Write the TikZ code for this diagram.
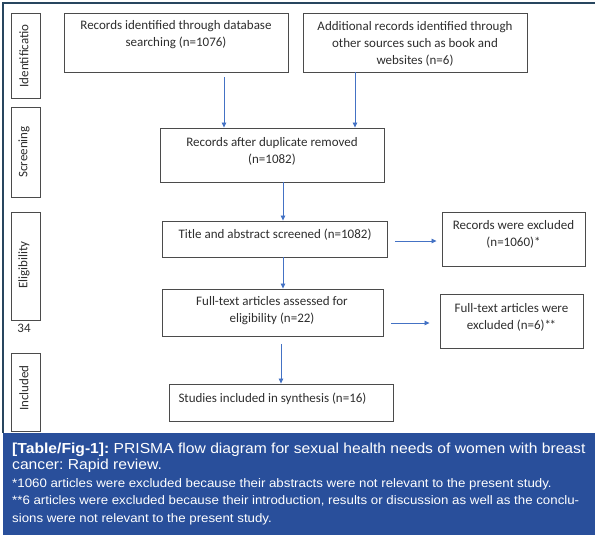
\documentclass[tikz,border=0pt]{standalone}
\usepackage{fontspec}
\setmainfont{Carlito}
\newfontfamily\capfont[FakeStretch=1.08]{Liberation Sans}
\usetikzlibrary{arrows.meta,calc}
\definecolor{bandblue}{RGB}{41,79,155}
\definecolor{arrblue}{RGB}{68,114,196}
\definecolor{framec}{RGB}{40,70,95}
\definecolor{boxc}{RGB}{75,75,75}
\definecolor{txtc}{RGB}{45,45,45}
\frenchspacing
\tikzset{
  box/.style={draw=boxc, line width=0.9pt, inner sep=0pt},
  txt/.style={font=\fontsize{13}{17}\selectfont, text=txtc, align=center, inner sep=0pt},
  sidetxt/.style={font=\fontsize{13}{15}\selectfont, text=txtc, inner sep=0pt, rotate=90},
  arr/.style={draw=arrblue, line width=0.8pt, -{Triangle[length=5pt,width=4.5pt]}},
  frameline/.style={draw=framec, line width=1.3pt},
  cap1/.style={font=\capfont\fontsize{14.5}{17}\selectfont, text=white, inner sep=0pt, anchor=base west},
  cap2/.style={font=\capfont\fontsize{12.3}{15}\selectfont, text=white, inner sep=0pt, anchor=base west}
}
\begin{document}
\begin{tikzpicture}[x=1pt,y=-1pt]
\useasboundingbox (0,0) rectangle (595,542);
% frame and caption band
\fill[bandblue] (3,433) rectangle (595,535);
\draw[frameline] (595,3) -- (3,3) -- (3,433);
% side label boxes
\node[box, minimum width=29pt, minimum height=85pt] (S1) at (25.5,55.5) {};
\node[box, minimum width=29pt, minimum height=90pt] (S2) at (25.5,152) {};
\node[box, minimum width=29pt, minimum height=108pt] (S3) at (25.5,266) {};
\node[box, minimum width=29pt, minimum height=78pt] (S4) at (25.5,392) {};
\node[sidetxt] (S1t) at (24,56) {Identificatio};
\node[sidetxt] (S2t) at (24,152) {Screening};
\node[sidetxt] (S3t) at (24,265) {Eligibility};
\node[sidetxt] (S4t) at (24,388) {Included};
\node[txt] (n34) at (24,328) {34};
% flow boxes
\node[box, minimum width=224pt, minimum height=59pt] (A) at (176,42.5) {};
\node[txt] (At) at (176,35) {Records identified through database\\searching (n=1076)};
\node[box, minimum width=224pt, minimum height=59pt] (B) at (415,42.5) {};
\node[txt] (Bt) at (415,44) {Additional records identified through\\other sources such as book and\\websites (n=6)};
\node[box, minimum width=224pt, minimum height=54pt] (C) at (272,155) {};
\node[txt] (Ct) at (272,151.5) {Records after duplicate removed\\(n=1082)};
\node[box, minimum width=225pt, minimum height=36pt] (D) at (274.5,239) {};
\node[txt] (Dt) at (275,234.5) {Title and abstract screened (n=1082)};
\node[box, minimum width=221pt, minimum height=47pt] (E) at (272.5,312.5) {};
\node[txt] (Et) at (272,310.5) {Full-text articles assessed for\\eligibility (n=22)};
\node[box, minimum width=224pt, minimum height=37pt] (F) at (281,402.5) {};
\node[txt] (Ft) at (272.5,398.5) {Studies included in synthesis (n=16)};
\node[box, minimum width=143pt, minimum height=54pt] (G) at (513.5,239) {};
\node[txt] (Gt) at (513.5,234.5) {Records were excluded\\(n=1060)*};
\node[box, minimum width=143pt, minimum height=54pt] (H) at (511.5,321) {};
\node[txt] (Ht) at (511.5,317) {Full-text articles were\\excluded (n=6)*\kern-1.5pt*};
% arrows
\draw[arr] ($(A.south)+(48,5)$) -- ($(C.north)+(-48,0)$);
\draw[arr] ($(B.south)+(-60,0)$) -- ($(C.north)+(83,0)$);
\draw[arr] ($(C.south)+(11,0)$) -- ($(D.north)+(8.5,0)$);
\draw[arr] ($(D.south)+(8.5,0)$) -- ($(E.north)+(10.5,0)$);
\draw[arr] ($(E.south)+(8.5,8)$) -- ($(F.north)+(0,0)$);
\draw[arr] ($(D.east)+(8,2)$) -- ($(D.east -| G.west)+(-5,2)$);
\draw[arr] ($(E.east)+(8,10.5)$) -- ($(E.east -| H.west)+(-10,10.5)$);
% caption
\node[cap1] (c1) at (12,453) {\textbf{[Table/Fig-1]:} PRISMA flow diagram for sexual health needs of women with breast};
\node[cap1] (c2) at (12,469) {cancer: Rapid review.};
\node[cap2] (c3) at (12,487) {*1060 articles were excluded because their abstracts were not relevant to the present study.};
\node[cap2] (c4) at (12,504.5) {**6 articles were excluded because their introduction, results or discussion as well as the conclu-};
\node[cap2] (c5) at (12,522) {sions were not relevant to the present study.};
\end{tikzpicture}
\end{document}
